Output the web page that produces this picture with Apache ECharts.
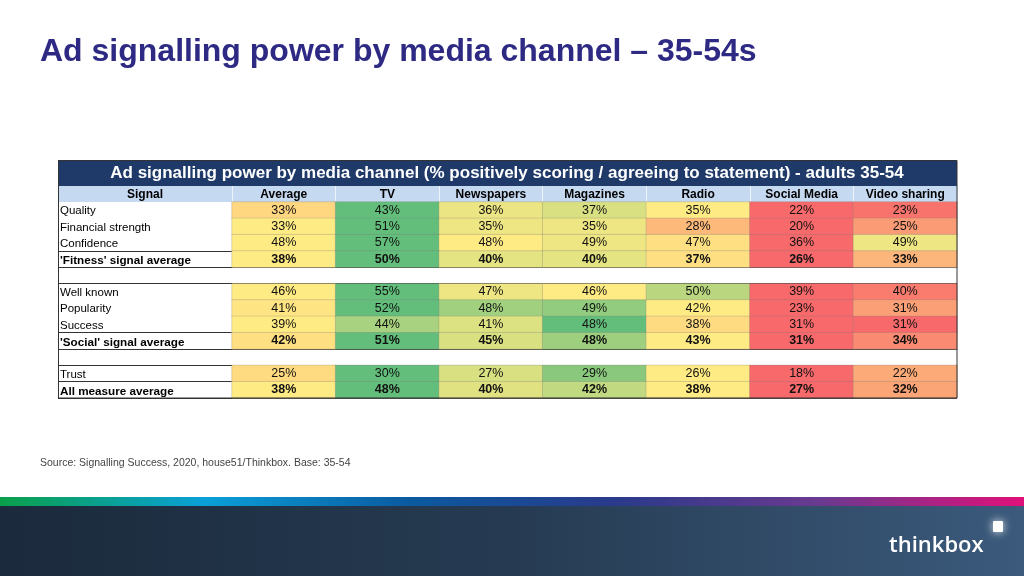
<!DOCTYPE html>
<html><head><meta charset="utf-8">
<script src="https://cdn.jsdelivr.net/npm/echarts@6/dist/echarts.min.js"></script>
<style>html,body{margin:0;padding:0;background:#fff}#c{width:1024px;height:576px}</style>
</head><body><div id="c"></div>
<script>
// ---------- data ----------
const channels = ['Average', 'TV', 'Newspapers', 'Magazines', 'Radio', 'Social Media', 'Video sharing'];
const rowLabels = ['Quality', 'Financial strength', 'Confidence', "'Fitness' signal average", '',
  'Well known', 'Popularity', 'Success', "'Social' signal average", '',
  'Trust', 'All measure average'];
const boldRows = [3, 8, 11];
const quality      = [33, 43, 36, 37, 35, 22, 23];
const financial    = [33, 51, 35, 35, 28, 20, 25];
const confidence   = [48, 57, 48, 49, 47, 36, 49];
const fitnessAvg   = [38, 50, 40, 40, 37, 26, 33];
const wellKnown    = [46, 55, 47, 46, 50, 39, 40];
const popularity   = [41, 52, 48, 49, 42, 23, 31];
const success      = [39, 44, 41, 48, 38, 31, 31];
const socialAvg    = [42, 51, 45, 48, 43, 31, 34];
const trust        = [25, 30, 27, 29, 26, 18, 22];
const allAvg       = [38, 48, 40, 42, 38, 27, 32];
const rowValues = [quality, financial, confidence, fitnessAvg, null,
  wellKnown, popularity, success, socialAvg, null, trust, allAvg];

// ---------- colour scale (per row, red - yellow - green) ----------
const RED = [248, 105, 107], YEL = [255, 235, 132], GRN = [99, 190, 123];
function median(a) { const s = [...a].sort((x, y) => x - y); const m = (s.length - 1) / 2;
  return (s[Math.floor(m)] + s[Math.ceil(m)]) / 2; }
function mix(a, b, t) { return 'rgb(' + a.map((v, i) => Math.round(v + (b[i] - v) * t)).join(',') + ')'; }
function colorFor(v, row) {
  const mn = Math.min(...row), mx = Math.max(...row), md = median(row);
  if (v <= md) return mix(RED, YEL, md === mn ? 1 : (v - mn) / (md - mn));
  return mix(YEL, GRN, mx === md ? 1 : (v - md) / (mx - md));
}
const cells = [];
rowValues.forEach((row, r) => {
  if (!row) return;
  row.forEach((v, c) => cells.push({
    value: [c, r, v],
    itemStyle: { color: colorFor(v, row) },
    label: { fontWeight: boldRows.includes(r) ? 'bold' : 'normal' }
  }));
});

const FONT = '"Liberation Sans", Arial, sans-serif';
const sepRows = [3, 4, 5, 8, 9, 10, 11];

const chart = echarts.init(document.getElementById('c'), null, { renderer: 'canvas' });
chart.setOption({
  animation: false,
  textStyle: { fontFamily: FONT },
  title: [
    { text: 'Ad signalling power by media channel \u2013 35-54s', left: 35, top: 31,
      textStyle: { fontSize: 32, fontWeight: 'bold', color: '#2e2a84', fontFamily: FONT } },
    { text: 'Source: Signalling Success, 2020, house51/Thinkbox. Base: 35-54', left: 35, top: 453,
      textStyle: { fontSize: 10.5, fontWeight: 'normal', color: '#444', fontFamily: FONT } }
  ],
  grid: [
    { left: 58, width: 174, top: 202, height: 196, show: false },
    { left: 232, right: 67, top: 202, height: 196, show: false }
  ],
  xAxis: [
    { type: 'category', gridIndex: 0, position: 'top', data: ['Signal'],
      axisLine: { show: false }, axisTick: { show: false },
      axisLabel: { margin: 1, fontWeight: 'bold', fontSize: 12, color: '#000', fontFamily: FONT } },
    { type: 'category', gridIndex: 1, position: 'top', data: channels,
      axisLine: { show: false },
      axisTick: { show: true, length: 16, lineStyle: { color: '#eef3fa', width: 1 } },
      axisLabel: { margin: 1, fontWeight: 'bold', fontSize: 12, color: '#000', fontFamily: FONT, interval: 0 },
      splitLine: { show: false } }
  ],
  yAxis: [
    { type: 'category', gridIndex: 0, data: rowLabels, inverse: true,
      axisLine: { show: false }, axisTick: { show: false },
      axisLabel: { inside: true, margin: 2, interval: 0, color: '#000',
        formatter: (v, i) => boldRows.includes(i) ? '{b|' + v + '}' : '{n|' + v + '}',
        rich: { b: { fontWeight: 'bold', fontSize: 11.7, fontFamily: FONT, color: '#000', padding: [3, 0, 0, 0] },
                n: { fontSize: 11.5, fontFamily: FONT, color: '#000', padding: [2, 0, 0, 0] } } },
      splitLine: { show: true, interval: (i) => sepRows.includes(i), lineStyle: { color: '#333', width: 1 } } },
    { type: 'category', gridIndex: 1, data: rowLabels, inverse: true,
      axisLine: { show: false }, axisTick: { show: false }, axisLabel: { show: false },
      splitLine: { show: true, interval: (i) => sepRows.includes(i), lineStyle: { color: '#333', width: 1 } } }
  ],
  series: [{
    type: 'heatmap', xAxisIndex: 1, yAxisIndex: 1, data: cells,
    label: { show: true, formatter: (p) => p.value[2] + '%', fontSize: 12.5, color: '#111', fontFamily: FONT },
    itemStyle: { borderWidth: 0.6, borderColor: 'rgba(120,120,120,0.45)' },
    emphasis: { disabled: true }
  }],
  graphic: [
    { type: 'rect', shape: { x: 58, y: 160, width: 899, height: 26 }, style: { fill: '#1f3a68' }, z: -5 },
    { type: 'text', x: 507, y: 173.5, style: { text: 'Ad signalling power by media channel (% positively scoring / agreeing to statement) - adults 35-54',
      fill: '#fff', font: 'bold 17px ' + FONT, textAlign: 'center', textVerticalAlign: 'middle' }, z: 10 },
    { type: 'rect', shape: { x: 58, y: 186, width: 899, height: 16 }, style: { fill: '#c5d9f1' }, z: -5 },
    { type: 'rect', shape: { x: 58.5, y: 160.5, width: 898.5, height: 237.5 },
      style: { fill: 'none', stroke: '#333', lineWidth: 1 }, z: 20 },
    { type: 'rect', shape: { x: 0, y: 497, width: 1024, height: 9 },
      style: { fill: new echarts.graphic.LinearGradient(0, 0, 1, 0, [
        { offset: 0, color: '#0aa04a' }, { offset: 0.2, color: '#0aa0d8' }, { offset: 0.4, color: '#0a5aa0' },
        { offset: 0.6, color: '#2a3a8a' }, { offset: 0.8, color: '#6a3a90' }, { offset: 1, color: '#e0107a' }]) } },
    { type: 'rect', shape: { x: 0, y: 506, width: 1024, height: 70 },
      style: { fill: new echarts.graphic.LinearGradient(0, 0, 1, 0, [
        { offset: 0, color: '#1b2a3c' }, { offset: 0.5, color: '#263b52' }, { offset: 1, color: '#3b5a7c' }]) } },
    { type: 'text', x: 889, y: 546, style: { text: 'thinkbox', fill: '#fff', font: '600 22px "Open Sans", sans-serif',
      textVerticalAlign: 'middle' } },
    { type: 'rect', shape: { x: 993, y: 521, width: 10, height: 11, r: 1 },
      style: { fill: '#fff', shadowBlur: 8, shadowColor: 'rgba(255,255,255,0.9)' } }
  ]
});
</script></body></html>
